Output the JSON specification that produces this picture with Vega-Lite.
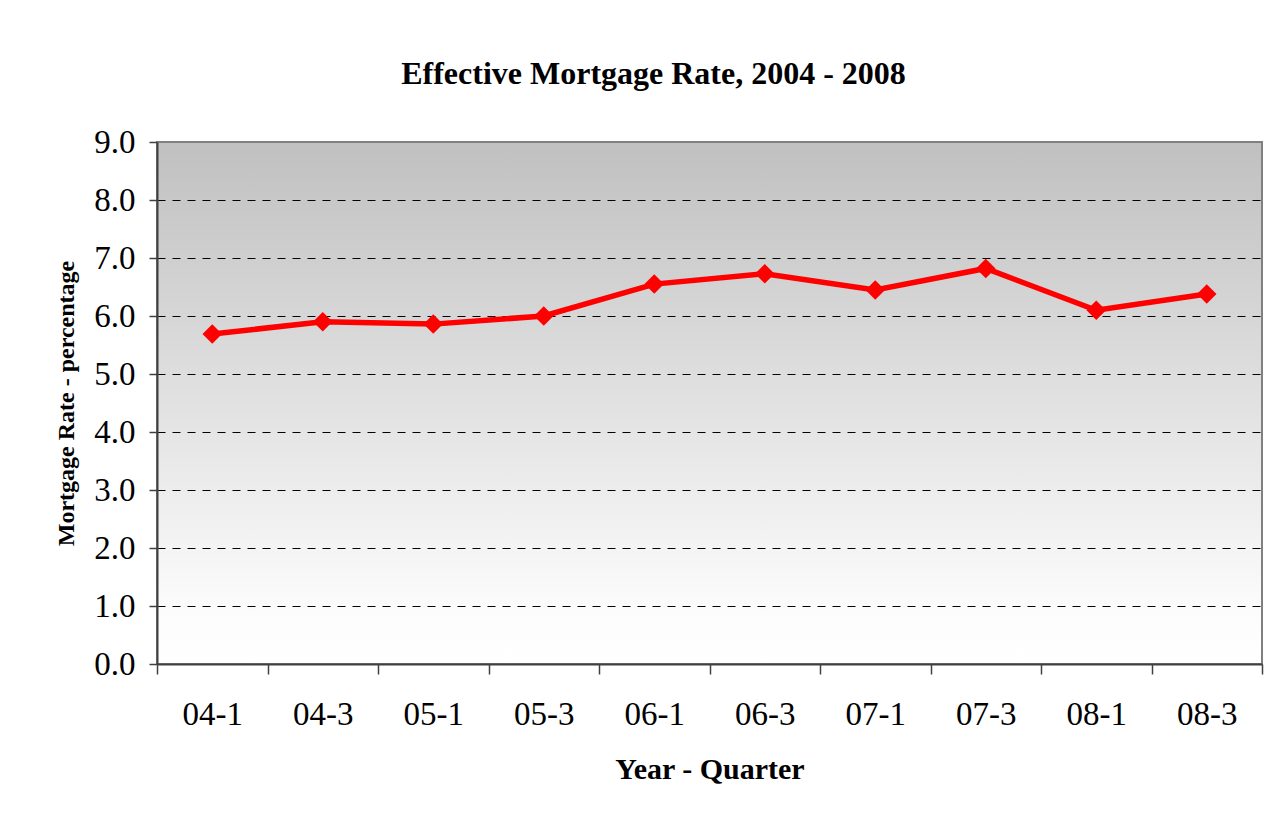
{
  "$schema": "https://vega.github.io/schema/vega-lite/v6.json",
  "width": 1105,
  "height": 522,
  "autosize": {"type": "none"},
  "padding": {"left": 157, "top": 142, "right": 25, "bottom": 155},
  "background": "#ffffff",
  "title": {
    "text": "Effective Mortgage Rate, 2004 - 2008",
    "font": "Liberation Serif",
    "fontSize": 32,
    "fontWeight": "bold",
    "color": "#000000",
    "anchor": "middle",
    "frame": "group",
    "dx": -56,
    "baseline": "alphabetic",
    "offset": 10
  },
  "config": {
    "view": {
      "fill": {
        "gradient": "linear",
        "x1": 0, "y1": 0, "x2": 0, "y2": 1,
        "stops": [
          {"offset": 0, "color": "#c0c0c0"},
          {"offset": 0.9, "color": "#fcfcfc"},
          {"offset": 1, "color": "#ffffff"}
        ]
      },
      "stroke": "#808080",
      "strokeWidth": 2
    }
  },
  "data": {
    "values": [
      {"quarter": "04-1", "rate": 5.69},
      {"quarter": "04-3", "rate": 5.90},
      {"quarter": "05-1", "rate": 5.86},
      {"quarter": "05-3", "rate": 6.00},
      {"quarter": "06-1", "rate": 6.55},
      {"quarter": "06-3", "rate": 6.73},
      {"quarter": "07-1", "rate": 6.45},
      {"quarter": "07-3", "rate": 6.82},
      {"quarter": "08-1", "rate": 6.10},
      {"quarter": "08-3", "rate": 6.38}
    ]
  },
  "encoding": {
    "x": {
      "field": "quarter",
      "type": "ordinal",
      "sort": null,
      "scale": {"type": "band", "paddingInner": 0, "paddingOuter": 0},
      "axis": {
        "title": "Year - Quarter",
        "titleFont": "Liberation Serif",
        "titleFontSize": 30,
        "titleFontWeight": "bold",
        "titleColor": "#000000",
        "titleBaseline": "alphabetic",
        "titleY": 114,
        "labelFont": "Liberation Serif",
        "labelFontSize": 33,
        "labelColor": "#000000",
        "labelAngle": 0,
        "labelBaseline": "alphabetic",
        "labelPadding": 50,
        "tickBand": "extent",
        "tickSize": 10,
        "tickColor": "#404040",
        "tickWidth": 1.5,
        "domainColor": "#404040",
        "domainWidth": 2,
        "grid": false
      }
    },
    "y": {
      "field": "rate",
      "type": "quantitative",
      "scale": {"domain": [0, 9], "nice": false, "zero": true},
      "axis": {
        "title": "Mortgage Rate - percentage",
        "titleFont": "Liberation Serif",
        "titleFontSize": 24,
        "titleFontWeight": "bold",
        "titleColor": "#000000",
        "titleBaseline": "alphabetic",
        "titleX": -84,
        "values": [0, 1, 2, 3, 4, 5, 6, 7, 8, 9],
        "format": ".1f",
        "labelFont": "Liberation Serif",
        "labelFontSize": 33,
        "labelColor": "#000000",
        "labelPadding": 14,
        "tickSize": 8,
        "tickColor": "#404040",
        "tickWidth": 1.5,
        "domainColor": "#404040",
        "domainWidth": 2,
        "grid": true,
        "gridColor": {"condition": {"test": "datum.value === 0 || datum.value === 9", "value": "transparent"}, "value": "#000000"},
        "gridDash": [8, 7],
        "gridWidth": 1
      }
    }
  },
  "layer": [
    {
      "mark": {"type": "line", "color": "#ff0000", "strokeWidth": 5.5}
    },
    {
      "mark": {"type": "point", "shape": "diamond", "filled": true, "color": "#ff0000", "size": 380, "opacity": 1}
    }
  ]
}
